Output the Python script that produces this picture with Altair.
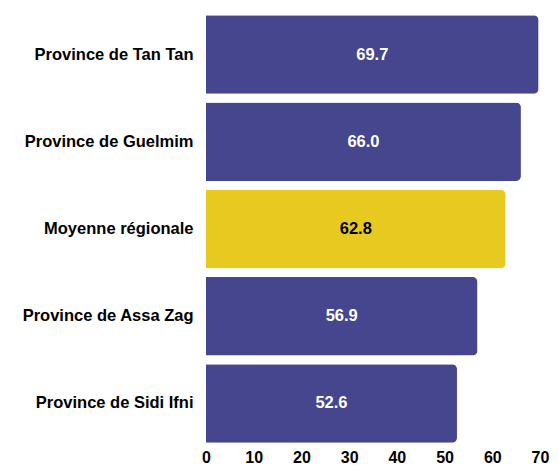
import altair as alt
import pandas as pd

categories = ["Province de Tan Tan", "Province de Guelmim", "Moyenne régionale",
              "Province de Assa Zag", "Province de Sidi Ifni"]
values = [69.7, 66.0, 62.8, 56.9, 52.6]
kinds = ["province", "province", "moyenne", "province", "province"]

df = pd.DataFrame({"cat": categories, "val": values, "kind": kinds})
df["label"] = df["val"].map(lambda v: f"{v:.1f}")

FONT = "Liberation Sans"

y = alt.Y("cat:N", sort=categories, title=None,
          scale=alt.Scale(paddingInner=0.1, paddingOuter=0.05),
          axis=alt.Axis(domain=False, ticks=False, labelFont=FONT, labelFontSize=16.5,
                        labelFontWeight="bold", labelColor="#000000", labelPadding=13,
                        labelLimit=250))
x = alt.X("val:Q", title=None, scale=alt.Scale(domain=[0, 70], nice=False),
          axis=alt.Axis(domain=False, ticks=False, grid=False, values=[0, 10, 20, 30, 40, 50, 60, 70],
                        labelFont=FONT, labelFontSize=16, labelFontWeight="bold",
                        labelColor="#000000", labelPadding=2, labelFlush=False))

bars = alt.Chart(df).mark_bar(cornerRadiusEnd=5).encode(
    y=y, x=x,
    color=alt.Color("kind:N", scale=alt.Scale(domain=["province", "moyenne"],
                                               range=["#45468E", "#E8C920"]), legend=None),
)

text = alt.Chart(df).mark_text(font=FONT, fontSize=16.5, fontWeight="bold").encode(
    y=alt.Y("cat:N", sort=categories),
    x=alt.X("mid:Q"),
    text="label:N",
    color=alt.Color("kind:N", scale=alt.Scale(domain=["province", "moyenne"],
                                               range=["#ffffff", "#000000"]), legend=None),
).transform_calculate(mid="datum.val / 2")

chart = alt.layer(bars, text).resolve_scale(color="independent").properties(
    width=334, height=436,
    autosize=alt.AutoSizeParams(type="none"),
    padding={"left": 198, "top": 3, "right": 10, "bottom": 18},
).configure_view(stroke=None)

chart.save("out.html", embed_options={"renderer": "svg", "actions": False})
